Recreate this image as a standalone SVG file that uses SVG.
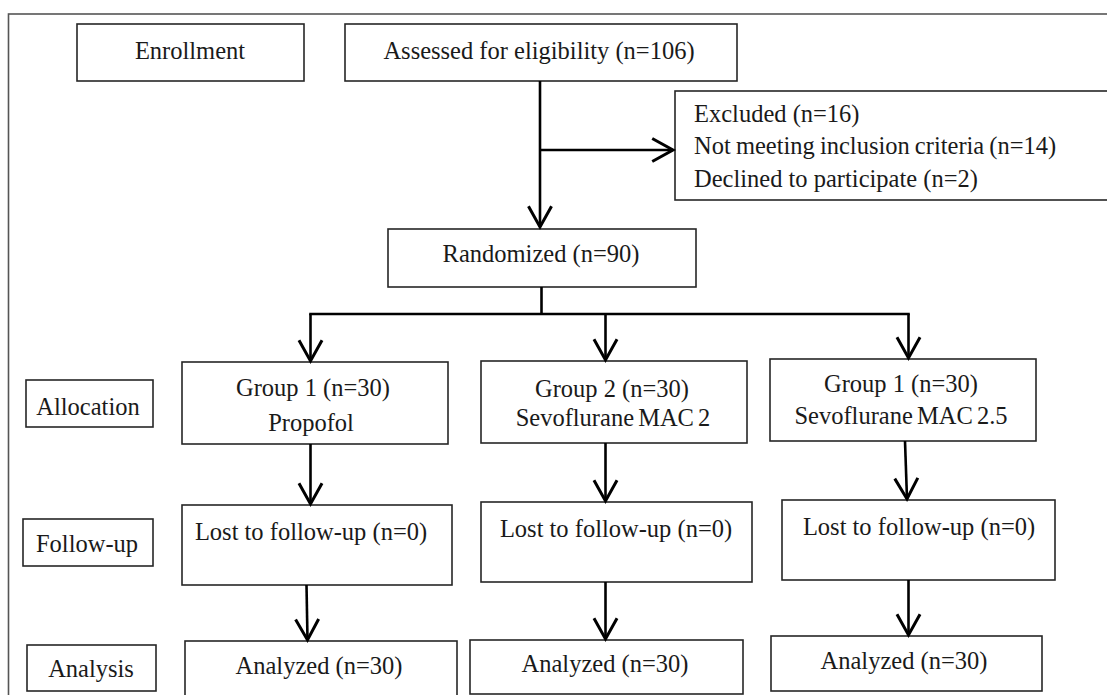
<svg xmlns="http://www.w3.org/2000/svg" width="1107" height="695" viewBox="0 0 1107 695">
<style>
.box{fill:#fff;stroke:#262626;stroke-width:1.6}
.frame{fill:#fff;stroke:#555;stroke-width:1.6}
.t{font-family:"Liberation Serif","Times New Roman",serif;font-size:24.5px;fill:#1a1a1a}
.c{text-anchor:middle}
.con{stroke:#000;stroke-width:2.6;fill:none}
.arr{marker-end:url(#ah)}
</style>
<defs>
<marker id="ah" markerUnits="userSpaceOnUse" markerWidth="30" markerHeight="30" viewBox="-22 -13 26 26" refX="0" refY="0" orient="auto" overflow="visible">
<path d="M-18,-10 L0,0 L-18,10" fill="none" stroke="#000" stroke-width="2.6"/>
</marker>
</defs>
<rect class="frame" x="8.5" y="14" width="1110" height="700"/>

<g id="enrollment"><rect class="box" x="77" y="24" width="227" height="57"/><text class="t c" x="190" y="59">Enrollment</text></g>
<g id="assessed"><rect class="box" x="345" y="24" width="392" height="57"/><text class="t c" x="539" y="59">Assessed for eligibility (n=106)</text></g>
<g id="excluded"><rect class="box" x="675" y="91" width="440" height="109"/>
<text class="t" x="694" y="122">Excluded (n=16)</text>
<text class="t" x="694" y="154" word-spacing="-1">Not meeting inclusion criteria (n=14)</text>
<text class="t" x="694" y="187">Declined to participate (n=2)</text></g>
<g id="randomized"><rect class="box" x="388" y="229" width="308" height="58"/><text class="t c" x="541" y="262">Randomized (n=90)</text></g>

<g id="allocation"><rect class="box" x="26" y="380" width="127" height="47"/><text class="t c" x="88" y="415">Allocation</text></g>
<g id="followup"><rect class="box" x="23" y="519" width="130" height="47"/><text class="t c" x="87" y="552">Follow-up</text></g>
<g id="analysis"><rect class="box" x="27" y="645" width="129" height="46"/><text class="t c" x="91" y="677">Analysis</text></g>

<g id="group1"><rect class="box" x="182" y="362" width="266" height="82"/><text class="t c" x="313" y="396">Group 1 (n=30)</text><text class="t c" x="311" y="431">Propofol</text></g>
<g id="group2"><rect class="box" x="481" y="361" width="266" height="82"/><text class="t c" x="612" y="397">Group 2 (n=30)</text><text class="t c" x="613" y="426" word-spacing="-2">Sevoflurane MAC 2</text></g>
<g id="group3"><rect class="box" x="770" y="359" width="266" height="82"/><text class="t c" x="901" y="392">Group 1 (n=30)</text><text class="t c" x="901" y="424" word-spacing="-2">Sevoflurane MAC 2.5</text></g>

<g id="lost1"><rect class="box" x="182" y="505" width="270" height="80"/><text class="t c" x="311" y="540">Lost to follow-up (n=0)</text></g>
<g id="lost2"><rect class="box" x="481" y="502" width="271" height="80"/><text class="t c" x="616" y="537">Lost to follow-up (n=0)</text></g>
<g id="lost3"><rect class="box" x="782" y="500" width="273" height="80"/><text class="t c" x="919" y="535">Lost to follow-up (n=0)</text></g>

<g id="analyzed1"><rect class="box" x="185" y="641" width="272" height="60"/><text class="t c" x="319" y="674">Analyzed (n=30)</text></g>
<g id="analyzed2"><rect class="box" x="470" y="640" width="273" height="54"/><text class="t c" x="605" y="672">Analyzed (n=30)</text></g>
<g id="analyzed3"><rect class="box" x="771" y="636" width="271" height="55"/><text class="t c" x="904" y="669">Analyzed (n=30)</text></g>

<g id="connectors">
<line class="con arr" x1="540" y1="81" x2="540" y2="227"/>
<line class="con arr" x1="540" y1="150" x2="673" y2="150"/>
<line class="con" x1="541.5" y1="287" x2="541.5" y2="314"/>
<line class="con" x1="309.2" y1="314" x2="909.8" y2="314"/>
<line class="con arr" x1="310.5" y1="314" x2="310.5" y2="361"/>
<line class="con arr" x1="605.5" y1="314" x2="605.5" y2="360"/>
<line class="con arr" x1="908.5" y1="314" x2="908.5" y2="358"/>
<line class="con arr" x1="310.5" y1="444" x2="310.5" y2="504"/>
<line class="con arr" x1="605.5" y1="443" x2="605.5" y2="501"/>
<line class="con arr" x1="905" y1="441" x2="907" y2="499"/>
<line class="con arr" x1="306.5" y1="585" x2="307.5" y2="640"/>
<line class="con arr" x1="605.5" y1="582" x2="605.5" y2="639"/>
<line class="con arr" x1="908.5" y1="580" x2="908.5" y2="635"/>
</g>
</svg>
